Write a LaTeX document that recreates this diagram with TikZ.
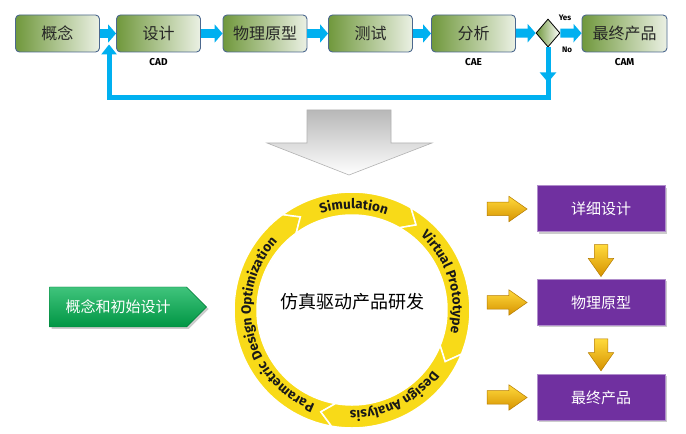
\documentclass[tikz,border=0pt]{standalone}
\usepackage{fontspec}
\setsansfont{Fira Sans}
\newfontfamily\cjk{Noto Sans CJK SC}
\usetikzlibrary{positioning, calc, arrows.meta, shapes.geometric, shapes.arrows, shapes.symbols, shadows, decorations.text}
\definecolor{flowblue}{RGB}{0, 176, 240}
\definecolor{stagegreen}{RGB}{112, 152, 60}
\definecolor{stageedge}{RGB}{76, 104, 142}
\definecolor{ringyellow}{RGB}{248, 218, 24}
\definecolor{procpurple}{RGB}{112, 48, 160}
\definecolor{startgreen}{RGB}{0, 176, 80}
\definecolor{goldA}{RGB}{255, 218, 60}
\definecolor{goldB}{RGB}{214, 146, 0}
\newcommand\ringfont{\sffamily\bfseries\fontsize{13.5}{13.5}\selectfont}

\tikzset{
  stage/.style={draw=stageedge, line width=0.9pt, rounded corners=4pt,
    left color=stagegreen, right color=stagegreen!14!white,
    minimum width=84pt, minimum height=37pt, inner sep=0pt,
    text=black!85, font=\cjk\fontsize{16}{18}\selectfont},
  decision/.style={diamond, draw=black, line width=0.8pt, inner sep=0pt,
    left color=stagegreen, right color=white,
    minimum width=24pt, minimum height=28pt},
  flow/.style={draw=flowblue, line width=9pt, -{Triangle[length=8pt, width=18pt]}},
  back/.style={draw=flowblue, line width=5pt},
  tag/.style={font=\sffamily\bfseries\fontsize{10}{10}\selectfont, inner sep=0pt},
  smalltag/.style={font=\sffamily\bfseries\fontsize{8}{8}\selectfont, inner sep=0pt},
  procbox/.style={fill=procpurple, draw=procpurple!55!white, line width=1pt,
    minimum width=128pt, minimum height=46pt, text=white,
    font=\cjk\fontsize{15}{17}\selectfont,
    drop shadow={opacity=0.4, shadow xshift=2pt, shadow yshift=-2pt}},
  goldarrow/.style={single arrow, draw=goldB!85!black, line width=0.5pt,
    top color=goldA, bottom color=goldB, inner xsep=0pt, inner ysep=6.5pt,
    single arrow head extend=6pt, single arrow tip angle=70,
    minimum height=40pt},
  startbox/.style={signal, signal to=east, signal pointer angle=90,
    draw=startgreen!70!black, top color=startgreen!75!white, bottom color=startgreen!85!black,
    minimum height=40pt, inner xsep=16pt, text=white,
    font=\cjk\fontsize{15}{17}\selectfont,
    drop shadow={opacity=0.4, shadow xshift=2pt, shadow yshift=-2pt}}
}

\begin{document}
\begin{tikzpicture}[x=1pt, y=1pt]
  \path[fill=white, use as bounding box] (0,0) rectangle (686,434);

  % process chain
  \node[stage] (concept)  at (57.5,400.5)  {概念};
  \node[stage] (design)   at (158.5,400.5) {设计};
  \node[stage] (proto)    at (265,400.5)   {物理原型};
  \node[stage] (test)     at (370.5,400.5) {测试};
  \node[stage] (analysis) at (473.5,400.5) {分析};
  \node[decision] (check) at (548,401) {};
  \node[stage, minimum width=85pt] (product) at (624.5,400.5) {最终产品};

  \draw[flow] (concept) -- (design);
  \draw[flow] (design) -- (proto);
  \draw[flow] (proto) -- (test);
  \draw[flow] (test) -- (analysis);
  \draw[flow] (analysis) -- (check);
  \draw[flow] (check) -- (product);

  % loop back
  \draw[back, -{Triangle[length=10pt, width=16pt]}] (check.south) -- ++(0,-35);
  \draw[back, -{Triangle[length=10pt, width=15pt]}] (check.south)
    |- ([xshift=-7pt, yshift=-45pt]design.south west)
    -- ([xshift=-7pt, yshift=8pt]design.south west);

  \node[tag, below=6pt of design] (cad) {CAD};
  \node[tag, below=6pt of analysis] (cae) {CAE};
  \node[tag, below=6pt of product] (cam) {CAM};
  \node[smalltag] (yes) at ([xshift=17pt, yshift=15pt]check.center) {Yes};
  \node[smalltag] (no)  at ([xshift=19pt, yshift=-17pt]check.center) {No};

  % big gray arrow
  \shade[top color=black!28, bottom color=white, draw=black!30, line width=0.6pt]
    (307,324) -- (391,324) -- (391,291) -- (432,291) -- (349,259)
    -- (267,291) -- (307,291) -- cycle;

  % simulation cycle
  \begin{scope}[shift={(352,124)}]
    \foreach \ta/\tb in {260/126, 126/60, 60/-22, -22/-100}
      \fill[ringyellow, draw=white, line width=1.5pt]
        (\ta:118) arc[start angle=\ta, end angle=\tb, radius=118]
        -- ({\tb-7}:106.5) -- (\tb:95)
        arc[start angle=\tb, end angle=\ta, radius=95]
        -- ({\ta-7}:106.5) -- cycle;
    \path[decorate, decoration={text along path, text align=center, text color=black!90,
      text={|\ringfont|Parametric Design Optimization}}]
      (258:101) arc[start angle=258, end angle=128, radius=101];
    \path[decorate, decoration={text along path, text align=center, text color=black!90,
      text={|\ringfont|Simulation}}]
      (122:101) arc[start angle=122, end angle=56, radius=101];
    \path[decorate, decoration={text along path, text align=center, text color=black!90,
      text={|\ringfont|Virtual Prototype}}]
      (58:101) arc[start angle=58, end angle=-24, radius=101];
    \path[decorate, decoration={text along path, text align=center, text color=black!90,
      text={|\ringfont|Design Analysis}}]
      (-24:101) arc[start angle=-24, end angle=-104, radius=101];
    \node[font=\cjk\fontsize{18}{20}\selectfont] (core) at (0,8) {仿真驱动产品研发};
  \end{scope}

  % inputs and results
  \node[startbox] (start) at (118,127) {概念和初始设计};

  \node[procbox] (detail) at (601,225)   {详细设计};
  \node[procbox] (model)  at (601,131.5) {物理原型};
  \node[procbox] (final)  at (601,36.5)  {最终产品};

  \node[goldarrow, left=9pt of detail] (g1) {};
  \node[goldarrow, left=9pt of model]  (g2) {};
  \node[goldarrow, left=9pt of final]  (g3) {};
  \node[goldarrow, minimum height=32pt, rotate=-90] (d1) at ($(detail.south)!0.5!(model.north)$) {};
  \node[goldarrow, minimum height=32pt, rotate=-90] (d2) at ($(model.south)!0.5!(final.north)$) {};
\end{tikzpicture}
\end{document}
